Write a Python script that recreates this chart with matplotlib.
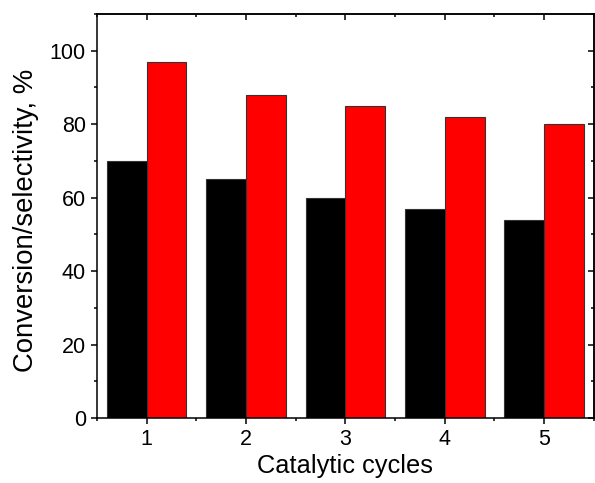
import matplotlib
matplotlib.use("Agg")
import matplotlib.pyplot as plt
import numpy as np
from matplotlib.ticker import MultipleLocator

plt.rcParams['font.family'] = ['Liberation Sans', 'DejaVu Sans']

cycles = [1, 2, 3, 4, 5]
conversion = [70, 65, 60, 57, 54]
selectivity = [97, 88, 85, 82, 80]
yticks = [0, 20, 40, 60, 80, 100]

fig = plt.figure(figsize=(5.95, 4.83), dpi=100)
ax = fig.add_axes([0.163, 0.1346, 0.835, 0.8364])

x = np.array(cycles, dtype=float)
w = 0.4
ax.bar(x - w / 2, conversion, width=w, color='black', edgecolor='#333333', linewidth=0.8)
ax.bar(x + w / 2, selectivity, width=w, color='#ff0000', edgecolor='#333333', linewidth=0.8)

ax.set_xlim(0.5, 5.5)
ax.set_ylim(0, 110)
ax.set_xticks(cycles)
ax.set_yticks(yticks)
ax.xaxis.set_minor_locator(MultipleLocator(0.5))
ax.yaxis.set_minor_locator(MultipleLocator(10))

lw = 1.1
ax.tick_params(axis='both', which='major', direction='out', length=4.5, width=lw,
               labelsize=15.5, pad=3.5)
ax.tick_params(axis='both', which='minor', direction='out', length=2.5, width=lw)

# mirrored ticks on top and right, pointing inwards
axt = ax.secondary_xaxis('top')
axt.set_xticks(cycles)
axt.xaxis.set_minor_locator(MultipleLocator(0.5))
axt.tick_params(axis='x', which='major', direction='in', length=4.5, width=lw, labeltop=False)
axt.tick_params(axis='x', which='minor', direction='in', length=2.5, width=lw)
axr = ax.secondary_yaxis('right')
axr.set_yticks(yticks)
axr.yaxis.set_minor_locator(MultipleLocator(10))
axr.tick_params(axis='y', which='major', direction='in', length=4.5, width=lw, labelright=False)
axr.tick_params(axis='y', which='minor', direction='in', length=2.5, width=lw)

for s in ax.spines.values():
    s.set_linewidth(lw)
axt.spines['top'].set_linewidth(lw)
axr.spines['right'].set_linewidth(lw)

ax.set_xlabel('Catalytic cycles', fontsize=18.3)
ax.set_ylabel('Conversion/selectivity, %', fontsize=19.8)
ax.xaxis.set_label_coords(0.5, -0.09)
ax.yaxis.set_label_coords(-0.117, 0.49)

fig.savefig('out.png', dpi=100)
